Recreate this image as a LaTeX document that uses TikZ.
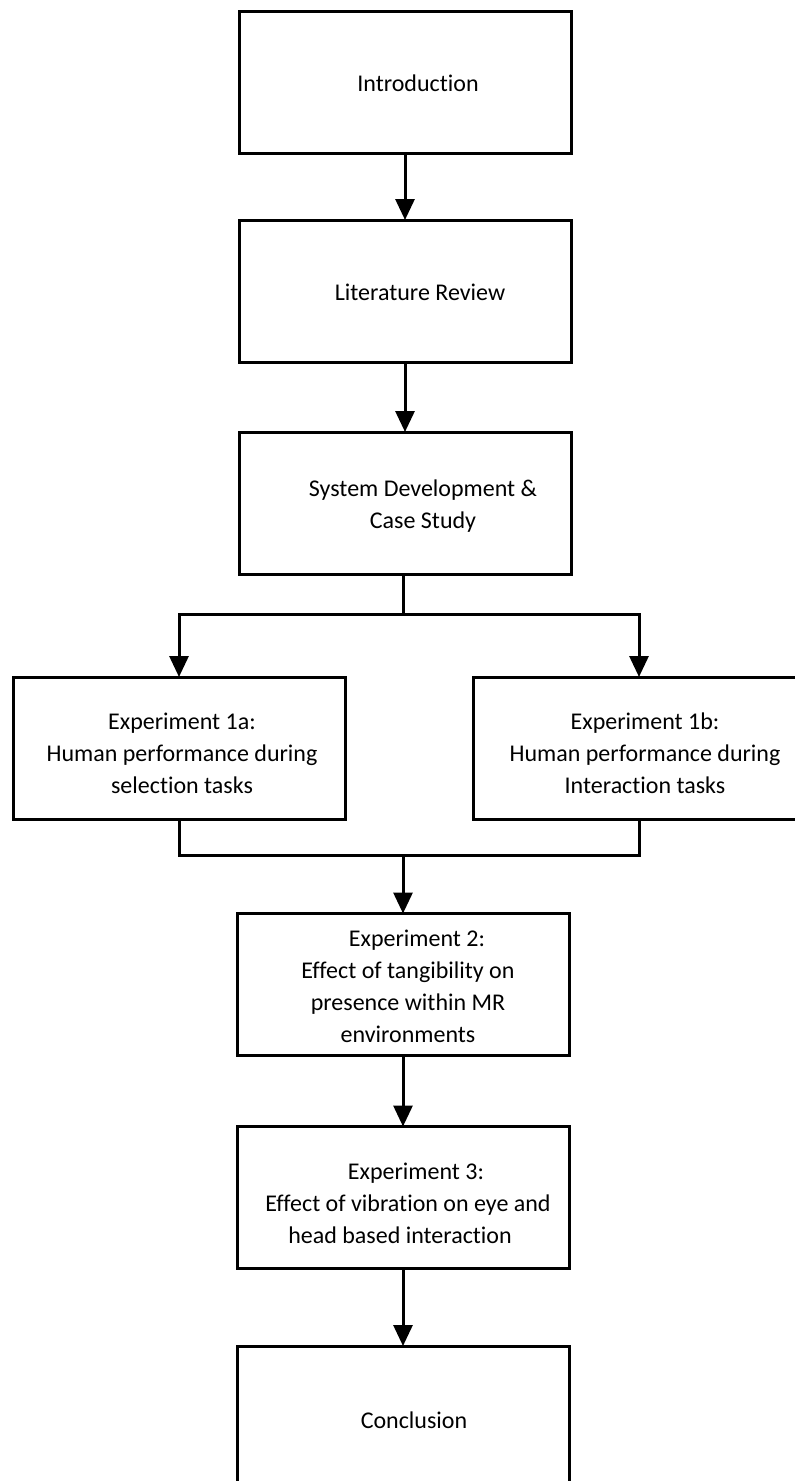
\documentclass[tikz,border=0pt]{standalone}
\usepackage{fontspec}
\setmainfont{Carlito}[Ligatures=NoCommon]
\usetikzlibrary{arrows.meta}
\begin{document}
\begin{tikzpicture}[x=1pt,y=-1pt,
  stepbox/.style={draw=black,line width=3pt,minimum width=332pt,minimum height=142pt,inner sep=0pt,outer sep=0pt},
  txt/.style={font=\fontsize{24}{32}\selectfont,align=center,inner sep=0pt},
  conn/.style={draw=black,line width=3pt},
  arr/.style={conn,-{Triangle[width=19pt,length=21pt]}}]
\useasboundingbox (0,0) rectangle (795,1481);
\fill[white] (0,0) rectangle (795,1481);
% boxes
\node[stepbox] (intro) at (405,82.5) {};
\node[stepbox] (lit) at (405,291) {};
\node[stepbox] (sys) at (405,503) {};
\node[stepbox] (e1a) at (179,748) {};
\node[stepbox] (e1b) at (639,748) {};
\node[stepbox] (e2) at (403,984.5) {};
\node[stepbox] (e3) at (403,1197.5) {};
\node[stepbox,minimum height=150pt] (concl) at (403,1421) {};
% texts
\node[txt] (tintro) at (418,83) {Introduction};
\node[txt] (tlit) at (420,292) {Literature Review};
\node[txt] (tsys) at (423,506) {System Development \&\\Case Study};
\node[txt] (te1a) at (182,753) {Experiment 1a:\\Human performance during\\selection tasks};
\node[txt] (te1b) at (645,753) {Experiment 1b:\\Human performance during\\Interaction tasks};
\node[txt] (te2) at (408,986) {\hspace*{18pt}Experiment 2:\\Effect of tangibility on\\presence within MR\\environments};
\node[txt] (te3) at (408,1203) {\hspace*{16pt}Experiment 3:\\Effect of vibration on eye and\\head based interaction\hspace*{16pt}};
\node[txt] (tconcl) at (414,1420) {Conclusion};
% connectors
\draw[arr] (intro.south) -- (lit.north);
\draw[arr] (lit.south) -- (sys.north);
\coordinate (br) at (403,614);
\coordinate (mg) at (403,855);
\draw[conn] (sys.south -| br) -- (br);
\draw[arr] (br) -| (e1a.north);
\draw[arr] (br) -| (e1b.north);
\draw[conn] (e1a.south) |- (mg);
\draw[conn] (e1b.south) |- (mg);
\draw[arr] (mg) -- (e2.north);
\draw[arr] (e2.south) -- (e3.north);
\draw[arr] (e3.south) -- (concl.north);
\end{tikzpicture}
\end{document}
